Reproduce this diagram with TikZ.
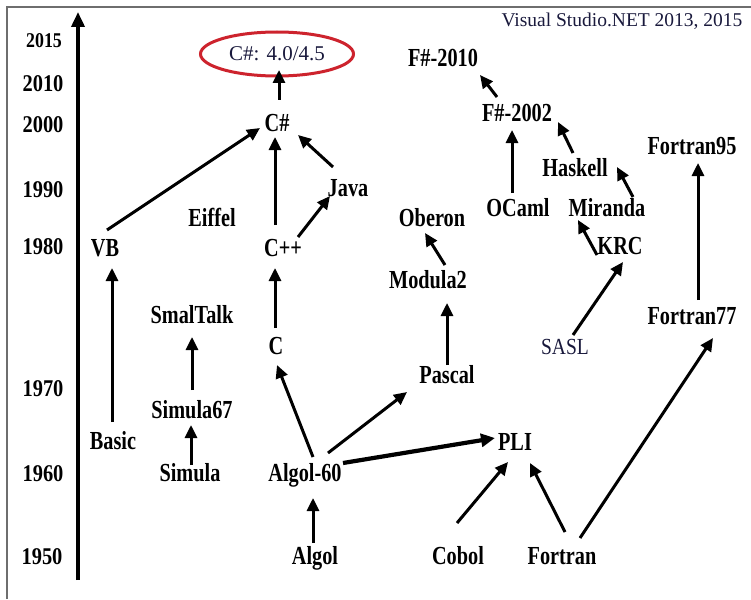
\documentclass[tikz,border=0pt]{standalone}
\usepackage{fontspec}
\setmainfont{Liberation Serif}
\newfontfamily\lblfont[FakeStretch=0.78]{Liberation Serif}
\newfontfamily\yrfont[FakeStretch=0.85]{Liberation Serif}
\usetikzlibrary{arrows.meta,shapes.geometric}
\definecolor{ovalred}{RGB}{205,35,45}
\definecolor{navy}{RGB}{25,25,60}
\definecolor{framegray}{RGB}{110,110,110}
\begin{document}
\begin{tikzpicture}[x=1pt,y=-1pt,
  lbl/.style={font=\lblfont\bfseries\fontsize{26}{29}\selectfont, inner sep=0pt, text height=18pt, text depth=5pt},
  yr/.style={font=\yrfont\bfseries\fontsize{24}{27}\selectfont, inner sep=0pt, text height=17pt, text depth=4pt},
  thin lbl/.style={font=\yrfont\fontsize{23}{26}\selectfont, text=navy, inner sep=0pt, text height=16pt, text depth=4pt},
  arr/.style={line width=3pt, -{Triangle[length=13pt,width=12pt]}},
  thickarr/.style={line width=4.2pt, -{Triangle[length=14pt,width=13pt]}},
  frame/.style={line width=1.6pt, draw=framegray}
]
\useasboundingbox (0,0) rectangle (751,599);
% frame
\coordinate (fbl) at (7,599);
\coordinate (ftl) at (7,7);
\coordinate (ftr) at (751,7);
\draw[frame] (fbl) -- (ftl) -- (ftr);
% axis
\coordinate (axbot) at (78,580);
\coordinate (axtop) at (78,12);
\draw[line width=3.6pt, -{Triangle[length=15pt,width=13pt]}] (axbot) -- (axtop);
% years
\node[yr, font=\yrfont\bfseries\fontsize{21}{24}\selectfont] (y2015) at (44,41) {2015};
\node[yr] (y2010) at (43,85) {2010};
\node[yr] (y2000) at (43,126) {2000};
\node[yr] (y1990) at (43,191) {1990};
\node[yr] (y1980) at (43,248) {1980};
\node[yr] (y1970) at (43,390) {1970};
\node[yr] (y1960) at (43,475) {1960};
\node[yr] (y1950) at (42,558) {1950};
% header
\node[font=\fontsize{19.5}{23}\selectfont, text=navy, inner sep=0pt] (vs) at (622,21) {Visual Studio.NET 2013, 2015};
% ellipse
\node[ellipse, draw=ovalred, line width=3pt, minimum width=153pt, minimum height=44pt, inner sep=0pt,
      font=\fontsize{21}{24}\selectfont, text=navy] (ell) at (277,54) {\raisebox{-1pt}{C\#: 4.0/4.5}};
% languages
\node[lbl] (csharp) at (277,125) {C\#};
\node[lbl] (fs2010) at (443,60) {F\#-2010};
\node[lbl] (fs2002) at (517,115) {F\#-2002};
\node[lbl] (fortran95) at (692,148) {Fortran95};
\node[lbl] (haskell) at (575,170) {Haskell};
\node[lbl] (java) at (348,190) {Java};
\node[lbl] (ocaml) at (518,210) {OCaml};
\node[lbl] (miranda) at (607,210) {Miranda};
\node[lbl] (eiffel) at (212,220) {Eiffel};
\node[lbl] (oberon) at (432,220) {Oberon};
\node[lbl] (vb) at (105,250) {VB};
\node[lbl] (cpp) at (283,250) {C++};
\node[lbl] (krc) at (620,248) {KRC};
\node[lbl] (modula2) at (428,282) {Modula2};
\node[lbl] (smaltalk) at (192,317) {SmalTalk};
\node[lbl] (fortran77) at (692,318) {Fortran77};
\node[lbl] (c) at (276,348) {C};
\node[thin lbl] (sasl) at (565,348) {SASL};
\node[lbl] (pascal) at (447,377) {Pascal};
\node[lbl] (simula67) at (192,412) {Simula67};
\node[lbl] (basic) at (113,443) {Basic};
\node[lbl] (pli) at (515,444) {PLI};
\node[lbl] (simula) at (190,475) {Simula};
\node[lbl] (algol60) at (305,475) {Algol-60};
\node[lbl] (algol) at (315,558) {Algol};
\node[lbl] (cobol) at (458,558) {Cobol};
\node[lbl] (fortran) at (562,558) {Fortran};
% connectors
\draw[arr] ([shift={(2,-25)}]csharp.center) -- ([shift={(2,16)}]ell.center);
\draw[arr] ([shift={(-8,-25)}]cpp.center) -- ([shift={(-2,12)}]csharp.center);
\draw[arr] ([shift={(-15,-23)}]java.center) -- ([shift={(21,10)}]csharp.center);
\draw[arr] ([shift={(15,-13)}]cpp.center) -- ([shift={(-18,6)}]java.center);
\draw[arr] ([shift={(2,-20)}]vb.center) -- ([shift={(-17,3)}]csharp.center);
\draw[arr] ([shift={(-1,-21)}]basic.center) -- ([shift={(7,18)}]vb.center);
\draw[arr] ([shift={(-1,-20)}]c.center) -- ([shift={(-8,18)}]cpp.center);
\draw[arr] ([shift={(0,-22)}]simula67.center) -- ([shift={(0,20)}]smaltalk.center);
\draw[arr] ([shift={(1,-10)}]simula.center) -- ([shift={(-1,13)}]simula67.center);
\draw[arr] ([shift={(-2,-15)}]algol.center) -- ([shift={(8,23)}]algol60.center);
\draw[arr] ([shift={(8,-18)}]algol60.center) -- ([shift={(1,17)}]c.center);
\draw[arr] ([shift={(23,-22)}]algol60.center) -- ([shift={(-40,15)}]pascal.center);
\draw[thickarr] ([shift={(38,-12)}]algol60.center) -- ([shift={(-20,-6)}]pli.center);
\draw[arr] ([shift={(0,-12)}]pascal.center) -- ([shift={(19,21)}]modula2.center);
\draw[arr] ([shift={(17,-17)}]modula2.center) -- ([shift={(-7,13)}]oberon.center);
\draw[arr] ([shift={(8,-13)}]sasl.center) -- ([shift={(3,14)}]krc.center);
\draw[arr] ([shift={(-23,7)}]krc.center) -- ([shift={(-29,10)}]miranda.center);
\draw[arr] ([shift={(26,-13)}]miranda.center) -- ([shift={(42,-3)}]haskell.center);
\draw[arr] ([shift={(-2,-17)}]haskell.center) -- ([shift={(41,7)}]fs2002.center);
\draw[arr] ([shift={(-6,-17)}]ocaml.center) -- ([shift={(-5,15)}]fs2002.center);
\draw[arr] ([shift={(-20,-18)}]fs2002.center) -- ([shift={(37,15)}]fs2010.center);
\draw[arr] ([shift={(6,-18)}]fortran77.center) -- ([shift={(6,15)}]fortran95.center);
\draw[arr] ([shift={(18,-20)}]fortran.center) -- ([shift={(21,20)}]fortran77.center);
\draw[arr] ([shift={(3,-26)}]fortran.center) -- ([shift={(15,19)}]pli.center);
\draw[arr] ([shift={(-1,-35)}]cobol.center) -- ([shift={(-7,18)}]pli.center);
\end{tikzpicture}
\end{document}
